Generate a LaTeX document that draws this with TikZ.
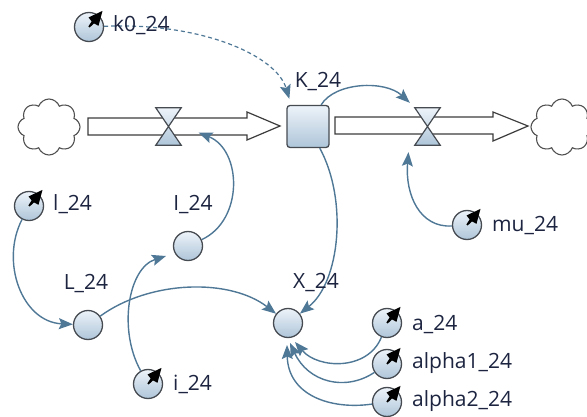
\documentclass[tikz,border=0pt]{standalone}
\usepackage{fontspec}
\setmainfont{Open Sans}
\usetikzlibrary{shapes.symbols,arrows.meta,calc}
\definecolor{linkc}{HTML}{4F7796}
\definecolor{edgec}{HTML}{464B52}
\definecolor{fillhi}{HTML}{EDF3F9}
\definecolor{filllo}{HTML}{AEC5D9}
\definecolor{labelc}{HTML}{1C2440}
\definecolor{pipec}{HTML}{3C3C3C}
\definecolor{cloudc}{HTML}{505050}
\begin{document}
\begin{tikzpicture}[x=1pt,y=-1pt,
  aux/.style={circle, draw=edgec, line width=1.3pt, top color=fillhi, bottom color=filllo, minimum size=29pt, inner sep=0pt},
  const/.style={aux},
  stock/.style={rectangle, rounded corners=3pt, draw=edgec, line width=1.3pt, top color=fillhi, bottom color=filllo, minimum size=42pt, inner sep=0pt},
  valvebox/.style={rectangle, minimum width=25pt, minimum height=37pt, inner sep=0pt},
  lbl/.style={text=labelc, font=\fontsize{21}{23}\selectfont, inner sep=0pt},
  link/.style={draw=linkc, line width=1.4pt, -{Stealth[length=14pt,width=11pt,inset=2.5pt]}},
  sky/.style={cloud, cloud puffs=8, cloud puff arc=140, aspect=1.1, draw=cloudc, line width=1.1pt, fill=white, minimum width=62pt, minimum height=56pt, inner sep=0pt},
  pipe/.style={draw=pipec, line width=1.2pt, fill=white, line join=miter},
  hourglass/.style={draw=edgec, line width=1.2pt, top color=fillhi, bottom color=filllo, line join=miter},
  needle/.style={fill=black}
]
\useasboundingbox (0,0) rectangle (587,417);

% sources and sinks
\node[sky] (srcL) at (49,127) {};
\node[sky] (sinkR) at (562,127) {};

% flow pipes
\draw[pipe] (88,118) -- (247,118) -- (247,112) -- (280,126) -- (247,140) -- (247,135) -- (88,135) -- cycle;
\draw[pipe] (335,117) -- (493,117) -- (493,112) -- (528,126) -- (493,141) -- (493,134) -- (335,134) -- cycle;

% valves
\node[valvebox] (vL) at (168.5,126.5) {};
\node[valvebox] (vR) at (427.5,126.5) {};
\foreach \v in {vL,vR}
  \draw[hourglass] (\v.north west) -- (\v.north east) -- (\v.center) -- (\v.south east) -- (\v.south west) -- (\v.center) -- cycle;

% stock
\node[stock] (K) at (308,126.5) {};

% auxiliaries
\node[aux] (I) at (188,246) {};
\node[aux] (L) at (88,325) {};
\node[aux] (X) at (288,323) {};

% constants
\node[const] (k0) at (89,27) {};
\node[const] (l) at (29,206) {};
\node[const] (i) at (148,384) {};
\node[const] (mu) at (467,225) {};
\node[const] (a) at (387,323) {};
\node[const] (al1) at (387,364) {};
\node[const] (al2) at (387,402) {};
\foreach \c in {k0,l,i,mu,a,al1,al2}{
  \begin{scope}[shift={(\c.center)}, rotate=50]
    \fill[needle] (0,0.8) -- (6,1.6) -- (7,6.5) -- (21,0) -- (7,-6.5) -- (6,-1.6) -- (0,-0.8) -- cycle;
  \end{scope}
}

% connectors
\draw[link, dash pattern=on 4pt off 3pt, line width=1.2pt] (k0) .. controls (200,22) and (276,55) .. ([shift={(3,-6)}]K.north west);
\draw[link] (K) .. controls (335,82) and (385,80) .. ([shift={(-5,-5)}]vR.north west);
\draw[link] (mu) .. controls (420,228) and (405,195) .. ([shift={(-19,7)}]vR.south);
\draw[link] (I) .. controls (244,220) and (242,150) .. ([shift={(30,6)}]vL.center);
\draw[link] (l) .. controls (0,262) and (22,322) .. (L);
\draw[link] (L) .. controls (150,280) and (230,278) .. (X);
\draw[link] (K) .. controls (348,200) and (340,282) .. (X);
\draw[link] (i) .. controls (118,330) and (128,268) .. ([shift={(-22,10)}]I.center);
\draw[link] (a) .. controls (368,371) and (318,369) .. ([shift={(7,19)}]X.center);
\draw[link] (al1) .. controls (345,392) and (308,382) .. ([shift={(2,20)}]X.center);
\draw[link] (al2) .. controls (330,410) and (288,395) .. ([shift={(-1,22)}]X.center);

% labels
\node[lbl, anchor=base west] (k0lab) at (113,32) {k0\_24};
\node[lbl, anchor=base] (Klab) at (318,88) {K\_24};
\node[lbl, anchor=base west] (llab) at (53,211) {l\_24};
\node[lbl, anchor=base] (Ilab) at (193,211) {I\_24};
\node[lbl, anchor=base] (Llab) at (86,290) {L\_24};
\node[lbl, anchor=base] (Xlab) at (316,288) {X\_24};
\node[lbl, anchor=base west] (ilab) at (173,390) {i\_24};
\node[lbl, anchor=base west] (mulab) at (492,232) {mu\_24};
\node[lbl, anchor=base west] (alab) at (412,330) {a\_24};
\node[lbl, anchor=base west] (al1lab) at (412,368) {alpha1\_24};
\node[lbl, anchor=base west] (al2lab) at (412,406) {alpha2\_24};
\end{tikzpicture}
\end{document}
